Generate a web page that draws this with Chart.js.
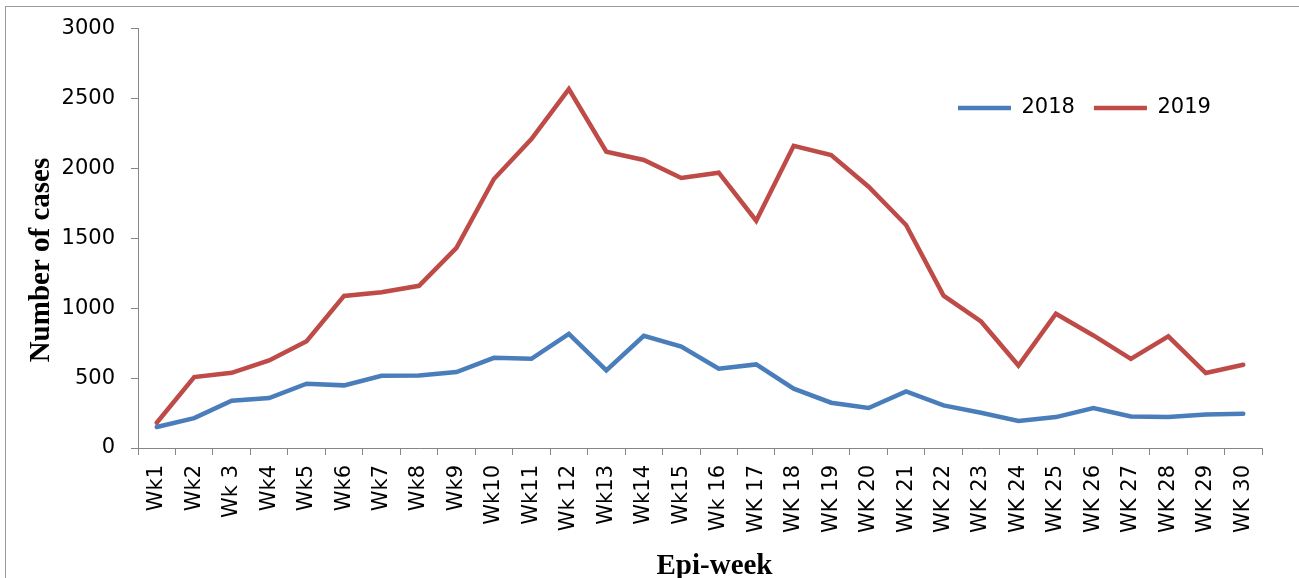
<!DOCTYPE html>
<html>
<head>
<meta charset="utf-8">
<script src="https://cdn.jsdelivr.net/npm/chart.js@4.4.1/dist/chart.umd.min.js"></script>
<style>
html,body{margin:0;padding:0;background:#fff;overflow:hidden;width:1299px;height:578px;}
#frame{position:absolute;left:5px;top:6px;width:1400px;height:700px;border-left:1px solid #9a9a9a;border-top:1px solid #9a9a9a;}
#c{position:absolute;left:0;top:0;}
</style>
</head>
<body>
<div id="frame"></div>
<canvas id="c" width="1299" height="578"></canvas>
<script>
const weeks = ["Wk1","Wk2","Wk 3","Wk4","Wk5","Wk6","Wk7","Wk8","Wk9","Wk10","Wk11","Wk 12","Wk13","Wk14","Wk15","Wk 16","WK 17","WK 18","WK 19","WK 20","WK 21","WK 22","WK 23","WK 24","WK 25","WK 26","WK 27","WK 28","WK 29","WK 30"];
const cases2018 = [150, 214, 338, 357, 460, 448, 517, 519, 543, 645, 638, 817, 555, 802, 726, 567, 598, 424, 324, 286, 405, 305, 252, 193, 221, 286, 226, 221, 240, 245];
const cases2019 = [181, 507, 538, 626, 764, 1088, 1114, 1160, 1431, 1924, 2210, 2567, 2119, 2060, 1931, 1969, 1626, 2162, 2095, 1869, 1595, 1090, 905, 590, 960, 805, 638, 798, 536, 595];
const seriesNames = ["2018", "2019"];
const yTickLabels = ["0", "500", "1000", "1500", "2000", "2500", "3000"];
const yMin = 0, yMax = 3000, yStep = 500;

const tickFont = {family: "DejaVu Sans", size: 21};
const titleFont = {family: "Liberation Serif", size: 29, weight: "bold", lineHeight: 1.1};
const xTitleFont = {family: "Liberation Serif", size: 29, weight: "bold", lineHeight: 0.76};
const axisGrey = "#868686";

const legendPlacer = {
  id: "legendPlacer",
  beforeInit(chart) {
    const lg = chart.legend;
    if (!lg) return;
    const fit = lg.fit;
    lg.fit = function () { fit.call(this); this.height = 0; };
  },
  afterLayout(chart) {
    const lg = chart.legend;
    if (!lg) return;
    lg.left = 939; lg.right = 1299; lg.width = lg.right - lg.left;
    lg.top = 78.5; lg.height = 50; lg.bottom = lg.top + lg.height;
  }
};

new Chart(document.getElementById("c"), {
  type: "line",
  data: {
    labels: weeks,
    datasets: [
      {label: seriesNames[0], data: cases2018, borderColor: "#4A7EBB", backgroundColor: "#4A7EBB",
       borderWidth: 4.5, pointRadius: 0, pointHoverRadius: 0, tension: 0, fill: false, borderCapStyle: "round"},
      {label: seriesNames[1], data: cases2019, borderColor: "#BE4B48", backgroundColor: "#BE4B48",
       borderWidth: 4.5, pointRadius: 0, pointHoverRadius: 0, tension: 0, fill: false, borderCapStyle: "round"}
    ]
  },
  options: {
    responsive: false,
    animation: false,
    devicePixelRatio: 1,
    layout: {padding: {left: 0, top: 28, right: 37, bottom: 0}},
    plugins: {
      tooltip: {enabled: false},
      legend: {
        display: true, position: "top", align: "start",
        labels: {usePointStyle: true, pointStyle: "line", pointStyleWidth: 53, font: tickFont, color: "#000", padding: 19}
      }
    },
    scales: {
      x: {
        type: "category", offset: true,
        grid: {display: true, drawOnChartArea: false, drawTicks: true, tickLength: 7, color: axisGrey, lineWidth: 1, offset: true},
        border: {display: true, color: axisGrey, width: 1},
        ticks: {font: tickFont, color: "#000", minRotation: 90, maxRotation: 90, autoSkip: false, padding: 10},
        title: {display: true, text: "    Epi-week", font: xTitleFont, color: "#000", padding: {top: 0, bottom: 0}},
        afterFit(s) { s.height = 130; }
      },
      y: {
        min: yMin, max: yMax,
        ticks: {stepSize: yStep, font: tickFont, color: "#000", padding: 16,
                callback: (v, i) => yTickLabels[i]},
        grid: {display: true, drawOnChartArea: false, drawTicks: true, tickLength: 7, color: axisGrey, lineWidth: 1},
        border: {display: true, color: axisGrey, width: 1},
        title: {display: true, text: "Number of cases      ", font: titleFont, color: "#000", padding: {top: 26, bottom: 0}},
        afterFit(s) { s.width = 138; }
      }
    }
  },
  plugins: [legendPlacer]
});
</script>
</body>
</html>
